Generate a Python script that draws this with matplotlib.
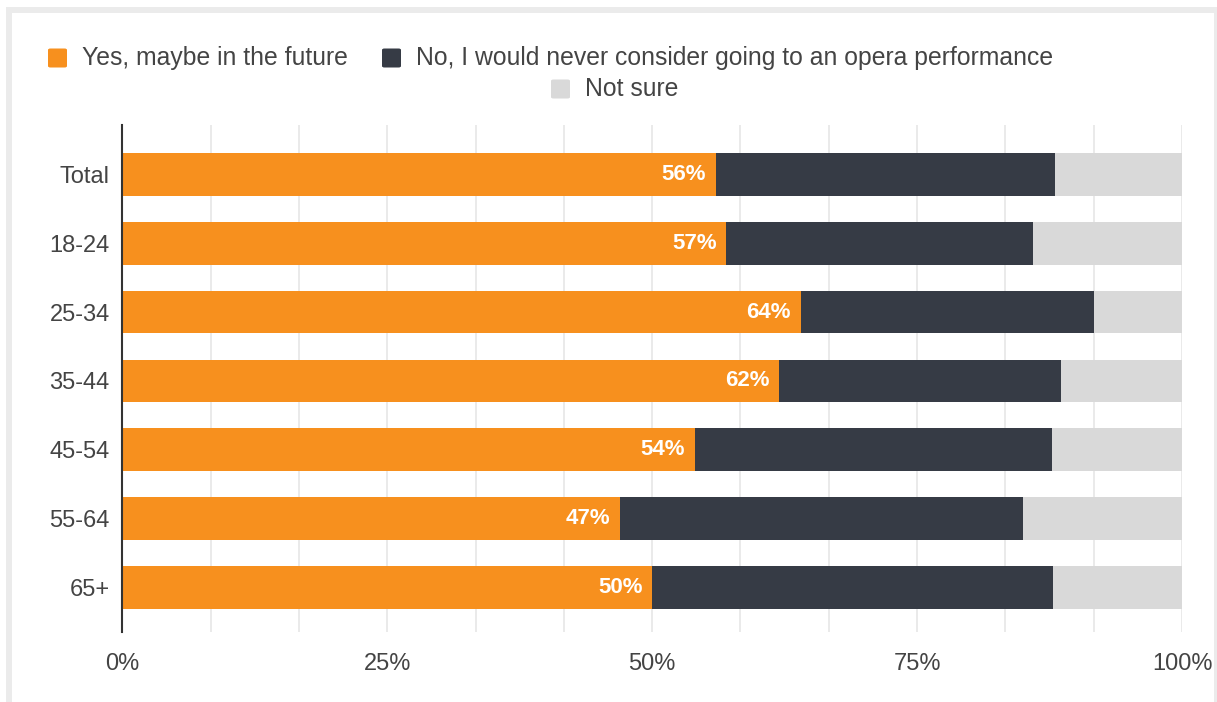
import matplotlib
matplotlib.use("Agg")
import matplotlib.pyplot as plt
from matplotlib.patches import Rectangle, FancyBboxPatch
from matplotlib.ticker import FixedLocator, FuncFormatter

plt.rcParams["font.family"] = ["Liberation Sans", "DejaVu Sans"]

# Survey results: would you consider going to an opera performance?
groups = ["Total", "18-24", "25-34", "35-44", "45-54", "55-64", "65+"]
yes_future = [56, 57, 64, 62, 54, 47, 50]
never = [32, 28.9, 27.7, 26.6, 33.7, 38, 37.8]
not_sure = [12, 14.1, 8.3, 11.4, 12.3, 15, 12.2]

series_names = [
    "Yes, maybe in the future",
    "No, I would never consider going to an opera performance",
    "Not sure",
]
series_colors = ["#f7901e", "#363b45", "#d9d9d9"]
text_color = "#444444"

W, H = 1217, 702
fig = plt.figure(figsize=(W / 100, H / 100), dpi=100)
fig.patch.set_facecolor("white")


def px(x, y):
    """Pixel position (from top-left) to figure fraction."""
    return x / W, 1 - y / H


# card border
fig.patches.append(Rectangle(px(6, 720), (1230 - 6) / W, (720 - 7) / H,
                             transform=fig.transFigure, facecolor="#ebebeb",
                             edgecolor="none", zorder=-3))
fig.patches.append(Rectangle(px(12, 720), (1214 - 12) / W, (720 - 13) / H,
                             transform=fig.transFigure, facecolor="white",
                             edgecolor="none", zorder=-2))

left, right = 122.3, 1182
top, bottom = 125, 632
ax = fig.add_axes([left / W, 1 - bottom / H, (right - left) / W, (bottom - top) / H])
ax.set_zorder(2)
ax.set_facecolor("none")

ypos = list(range(len(groups)))
bar_h = 0.62
ax.barh(ypos, yes_future, height=bar_h, color=series_colors[0], zorder=3)
lefts2 = [a for a in yes_future]
ax.barh(ypos, never, left=lefts2, height=bar_h, color=series_colors[1], zorder=3)
lefts3 = [a + b for a, b in zip(yes_future, never)]
ax.barh(ypos, not_sure, left=lefts3, height=bar_h, color=series_colors[2], zorder=3)

for y, v in zip(ypos, yes_future):
    ax.annotate(f"{v}%", xy=(v, y), xytext=(-7, 0), textcoords="offset points",
                ha="right", va="center", color="white", fontsize=16,
                fontweight="bold", zorder=4)

ax.set_xlim(0, 100)
ax.set_ylim(6.65, -0.72)

ax.xaxis.set_major_locator(FixedLocator([0, 25, 50, 75, 100]))
ax.xaxis.set_minor_locator(FixedLocator([i * 100 / 12 for i in range(13)]))
ax.xaxis.set_major_formatter(FuncFormatter(lambda v, p: f"{v:.0f}%"))
ax.grid(which="minor", axis="x", color="#e6e6e6", linewidth=1.2, zorder=0)
ax.grid(which="major", axis="x", color="#e6e6e6", linewidth=1.2, zorder=0)
ax.tick_params(axis="x", which="both", length=0, pad=15, labelsize=17,
               labelcolor=text_color)
ax.set_yticks(ypos)
ax.set_yticklabels(groups)
ax.tick_params(axis="y", length=0, pad=9, labelsize=17, labelcolor=text_color)

for s in ["top", "right", "bottom"]:
    ax.spines[s].set_visible(False)
ax.spines["left"].set_color("#333333")
ax.spines["left"].set_linewidth(1.5)
ax.spines["left"].set_zorder(5)

# legend, laid out in two rows
legend_items = [
    (48, 58, 0),
    (382, 58, 1),
    (551, 89, 2),
]
sq = 19
for x0, yc, i in legend_items:
    fig.patches.append(FancyBboxPatch(px(x0, yc + sq / 2), sq / W, sq / H,
                                      boxstyle="round,pad=0,rounding_size=0.002",
                                      transform=fig.transFigure,
                                      facecolor=series_colors[i], edgecolor="none",
                                      zorder=2))
    fx, fy = px(x0 + sq + 15, yc)
    fig.text(fx, fy, series_names[i], ha="left", va="center", fontsize=17.8,
             color=text_color)

fig.savefig("out.png", dpi=100, facecolor="white")
